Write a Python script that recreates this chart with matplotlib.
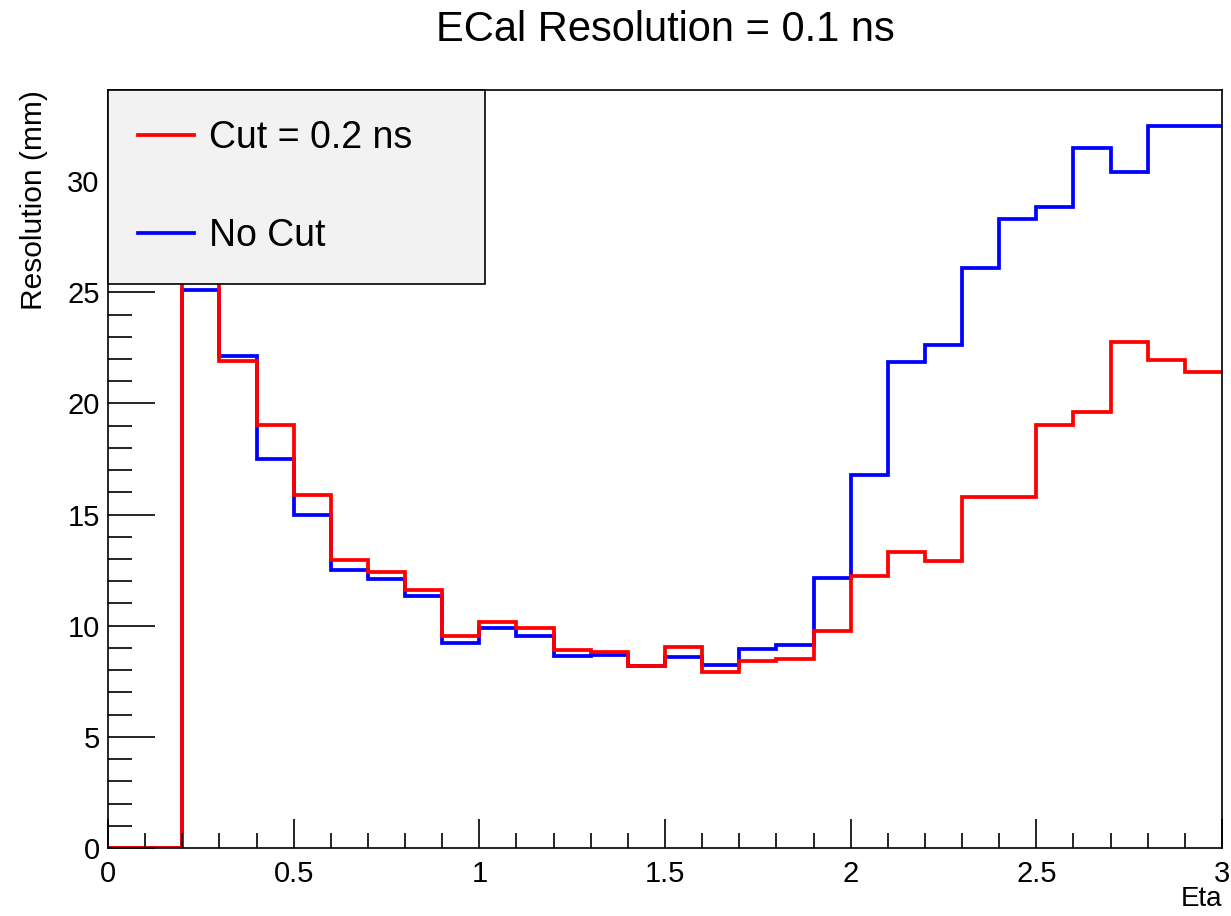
import matplotlib.pyplot as plt
import numpy as np
from matplotlib.ticker import MultipleLocator

plt.rcParams["font.family"] = ["Liberation Sans", "DejaVu Sans"]

# ============================================================
# Data: 30 bins of 0.1 in eta
# ============================================================
eta_edges = np.round(np.arange(0, 3.01, 0.1), 2)

no_cut = [
    0, 0, 25.1, 22.15, 17.5, 15.0, 12.5, 12.1, 11.35, 9.2,
    9.9, 9.55, 8.65, 8.7, 8.2, 8.6, 8.25, 8.95, 9.15, 12.15,
    16.8, 21.85, 22.65, 26.1, 28.3, 28.85, 31.5, 30.4, 32.5, 32.5,
]
cut_02 = [
    0, 0, 29.0, 21.9, 19.05, 15.9, 12.95, 12.4, 11.6, 9.55,
    10.15, 9.9, 8.9, 8.8, 8.2, 9.05, 7.9, 8.4, 8.5, 9.75,
    12.25, 13.3, 12.9, 15.8, 15.8, 19.05, 19.6, 22.75, 21.95, 21.4,
]

# ============================================================
# Figure
# ============================================================
fig = plt.figure(figsize=(12.31, 9.16), dpi=100)
ax = fig.add_axes([108 / 1231, 1 - 848 / 916, (1222 - 108) / 1231, (848 - 90) / 916])

ax.stairs(no_cut, eta_edges, baseline=None, color="#0000ff", lw=2.7, label="No Cut")
ax.stairs(cut_02, eta_edges, baseline=None, color="#ff0000", lw=2.7, label="Cut = 0.2 ns")

ax.set_xlim(0, 3)
ax.set_ylim(0, 34.1)

ax.xaxis.set_major_locator(MultipleLocator(0.5))
ax.xaxis.set_minor_locator(MultipleLocator(0.1))
ax.yaxis.set_major_locator(MultipleLocator(5))
ax.yaxis.set_minor_locator(MultipleLocator(1))
ax.xaxis.set_major_formatter(plt.FuncFormatter(lambda v, p: f"{v:g}"))

ax.tick_params(axis="both", which="both", direction="in", labelsize=21, width=1.2, color="black")
ax.tick_params(axis="x", which="major", length=21, pad=9)
ax.tick_params(axis="x", which="minor", length=11)
ax.tick_params(axis="y", which="major", length=34, pad=6)
ax.tick_params(axis="y", which="minor", length=17)

for s in ax.spines.values():
    s.set_linewidth(1.2)

ax.set_xlabel("Eta", fontsize=20, loc="right", labelpad=-2)
ax.set_ylabel("Resolution (mm)", fontsize=21.5, loc="top", labelpad=14)

fig.suptitle("ECal Resolution = 0.1 ns", fontsize=30, x=665 / 1231, y=1 - 10 / 916, va="top")

# ============================================================
# Legend
# ============================================================
handles, labels = ax.get_legend_handles_labels()
leg = ax.legend(
    handles[::-1],
    labels[::-1],
    loc="upper left",
    bbox_to_anchor=(0, 0, (485 - 108) / 1114, 1),
    mode="expand",
    fontsize=27,
    frameon=True,
    fancybox=False,
    edgecolor="black",
    facecolor="#f2f2f2",
    framealpha=1,
    borderaxespad=0,
    borderpad=0.8,
    handlelength=1.5,
    labelspacing=1.65,
    handletextpad=0.4,
)
leg.get_frame().set_linewidth(1.2)
for line in leg.get_lines():
    line.set_linewidth(2.7)

fig.savefig("out.png", dpi=100)
